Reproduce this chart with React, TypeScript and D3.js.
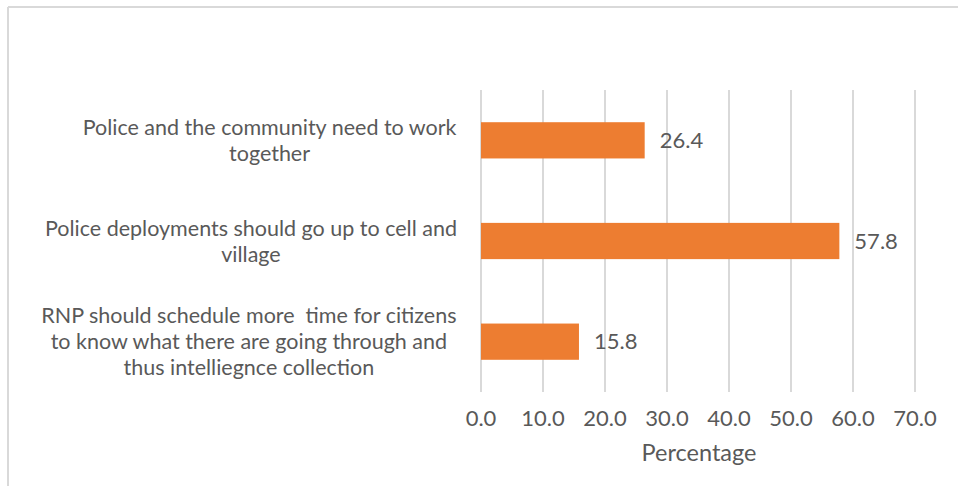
import React from "react";
import * as d3 from "d3";

const categories: string[][] = [
  ["Police and the community need to work", "together"],
  ["Police deployments should go up to cell and", "village"],
  ["RNP should schedule more  time for citizens", "to know what there are going through and", "thus intelliegnce collection"],
];
const values: number[] = [26.4, 57.8, 15.8];
const xTicks: number[] = [0, 10, 20, 30, 40, 50, 60, 70];
const xTitle = "Percentage";

const W = 958;
const H = 486;
const FONT = "Lato, 'Open Sans', sans-serif";
const TEXT = "#595959";

function measure(text: string, size: number): number {
  if (typeof document === "undefined") return text.length * size * 0.5;
  const c = document.createElement("canvas");
  const ctx = c.getContext("2d")!;
  ctx.font = `${size}px Lato`;
  return ctx.measureText(text).width;
}

export default function App() {
  const x = d3.scaleLinear().domain([0, 70]).range([481, 915]);
  const y = d3.scaleBand<number>().domain([0, 1, 2]).range([90, 392]).paddingInner(0.64).paddingOuter(0.32);
  const labelSize = 21.5;
  const lineH = 26;
  const rightEdge = 457;

  return (
    <svg width={W} height={H} style={{ position: "absolute", left: 0, top: 0, background: "#fff" }} fontFamily={FONT}>
      <line x1={8} x2={W} y1={7} y2={7} stroke="#d9d9d9" strokeWidth={2} />
      <line x1={8} x2={8} y1={7} y2={H} stroke="#d9d9d9" strokeWidth={2} />
      {xTicks.map((t) => (
        <line key={"g" + t} x1={x(t)} x2={x(t)} y1={90} y2={392} stroke="#d9d9d9" strokeWidth={2} />
      ))}
      {values.map((v, i) => (
        <rect key={"b" + i} x={x(0)} y={y(i)!} width={x(v) - x(0)} height={y.bandwidth()} fill="#ed7d31" />
      ))}
      {values.map((v, i) => (
        <text key={"v" + i} x={x(v) + 15} y={y(i)! + y.bandwidth() / 2} dy="0.35em" fontSize={22} fill={TEXT}>
          {v.toFixed(1)}
        </text>
      ))}
      {xTicks.map((t) => (
        <text key={"t" + t} x={x(t)} y={418} dy="0.35em" textAnchor="middle" fontSize={22} fill={TEXT}>
          {t.toFixed(1)}
        </text>
      ))}
      <text x={699} y={453} dy="0.35em" textAnchor="middle" fontSize={23.5} fill={TEXT}>
        {xTitle}
      </text>
      {categories.map((lines, i) => {
        const maxW = Math.max(...lines.map((l) => measure(l, labelSize)));
        const cx = rightEdge - maxW / 2;
        const cy = y(i)! + y.bandwidth() / 2;
        const start = cy - ((lines.length - 1) * lineH) / 2;
        return (
          <text key={"c" + i} fontSize={labelSize} fill={TEXT} textAnchor="middle" style={{ whiteSpace: "pre" }}>
            {lines.map((l, j) => (
              <tspan key={j} x={cx} y={start + j * lineH} dy="0.35em">
                {l}
              </tspan>
            ))}
          </text>
        );
      })}
    </svg>
  );
}
